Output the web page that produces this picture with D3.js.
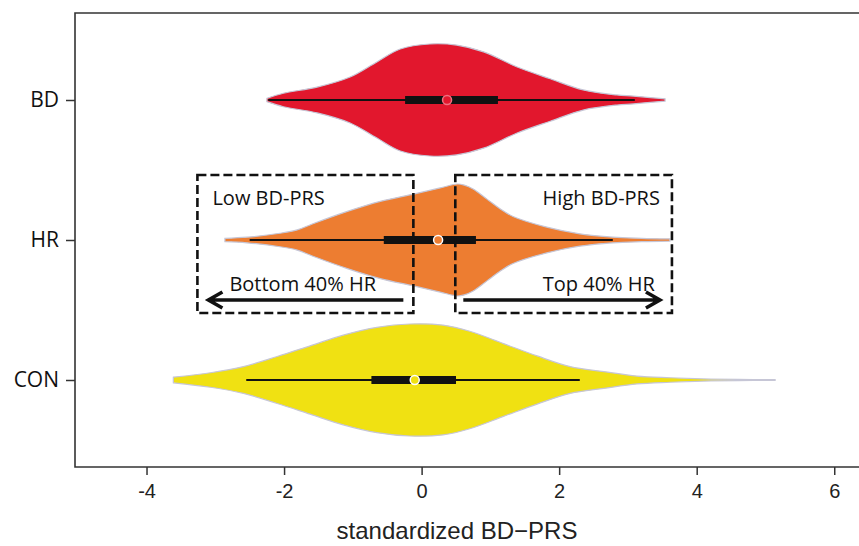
<!DOCTYPE html>
<html>
<head>
<meta charset="utf-8">
<script src="https://cdn.jsdelivr.net/npm/d3@7"></script>
<style>
  body { margin: 0; background: #fff; }
</style>
</head>
<body>
<div id="chart"></div>
<script>
const groups = ["BD", "HR", "CON"];
const colors = ["#e2172d", "#ed7d31", "#f0e112"];
const xTicks = [-4, -2, 0, 2, 4, 6];

// violin outlines: grid of x values and relative density (1 = widest)
const bdGrid = [-2.25, -2.01, -1.52, -1.04, -0.65, -0.31, 0.12, 0.51, 0.9, 1.39, 1.87, 2.35, 2.84, 3.08, 3.54];
const bdDensity = [0.03, 0.12, 0.23, 0.41, 0.68, 0.91, 1.0, 0.98, 0.86, 0.59, 0.38, 0.18, 0.09, 0.07, 0.02];

const hrGrid = [-2.86, -2.54, -2.06, -1.81, -1.58, -1.08, -0.6, -0.12, 0.27, 0.52, 0.62, 0.75, 0.95, 1.15, 1.33, 1.82, 2.3, 2.78, 3.2, 3.61];
const hrDensity = [0.03, 0.05, 0.12, 0.18, 0.29, 0.51, 0.69, 0.82, 0.93, 1.0, 0.98, 0.91, 0.73, 0.55, 0.42, 0.23, 0.11, 0.05, 0.03, 0.02];

const conGrid = [-3.61, -3.07, -2.59, -2.1, -1.62, -1.14, -0.65, -0.17, 0.31, 0.7, 1.19, 1.68, 2.16, 2.65, 3.13, 3.61, 4.1, 4.6, 5.14];
const conDensity = [0.05, 0.13, 0.24, 0.42, 0.61, 0.8, 0.94, 1.0, 0.98, 0.87, 0.65, 0.43, 0.24, 0.15, 0.07, 0.04, 0.02, 0.01, 0.005];

// box plot stats: whisker low, q1, median, q3, whisker high
const bdStats = [-2.23, -0.24, 0.37, 1.11, 3.1];
const hrStats = [-2.5, -0.55, 0.24, 0.79, 2.78];
const conStats = [-2.55, -0.73, -0.1, 0.5, 2.3];

// annotation over HR: dashed boxes (x extent) and their texts
const boxExtents = [[-3.26, -0.12], [0.49, 3.64]];
const boxTitles = ["Low BD-PRS", "High BD-PRS"];
const arrowTexts = ["Bottom 40% HR", "Top 40% HR"];

const width = 859, height = 546;
const margin = {left: 75, top: 13, bottom: 79};

const svg = d3.select("#chart").append("svg")
  .attr("width", width)
  .attr("height", height)
  .style("font-family", "'Liberation Sans', Arial, sans-serif");

const x = d3.scaleLinear().domain([-5.04, 6.36]).range([margin.left, width]);
const y = d3.scalePoint().domain(groups).range([100, 380]);
const w = d3.scaleLinear().domain([0, 1]).range([0, 56]);

const violins = [
  {name: "BD", grid: bdGrid, dens: bdDensity, stats: bdStats},
  {name: "HR", grid: hrGrid, dens: hrDensity, stats: hrStats},
  {name: "CON", grid: conGrid, dens: conDensity, stats: conStats},
];

// violins
violins.forEach((v, i) => {
  const cy = y(v.name);
  const pts = v.grid.map((g, j) => [g, v.dens[j]]);
  const area = d3.area()
    .x(d => x(d[0]))
    .y0(d => cy - w(d[1]))
    .y1(d => cy + w(d[1]))
    .curve(d3.curveCatmullRom);
  svg.append("path")
    .attr("d", area(pts))
    .attr("fill", colors[i])
    .attr("stroke", "#c6c6d6")
    .attr("stroke-width", 1.2);

  const [lo, q1, med, q3, hi] = v.stats;
  svg.append("line")
    .attr("x1", x(lo)).attr("x2", x(hi))
    .attr("y1", cy).attr("y2", cy)
    .attr("stroke", "#111").attr("stroke-width", 2);
  svg.append("rect")
    .attr("x", x(q1)).attr("y", cy - 4)
    .attr("width", x(q3) - x(q1)).attr("height", 8)
    .attr("fill", "#111");
  svg.append("circle")
    .attr("cx", x(med)).attr("cy", cy).attr("r", 4.5)
    .attr("fill", colors[i])
    .attr("stroke", i === 0 ? "#f07080" : "#fff")
    .attr("stroke-width", 1.5);
});

// frame (right side runs off the page)
svg.append("path")
  .attr("d", `M${width + 5},${margin.top}H${margin.left}V${height - margin.bottom}H${width + 5}`)
  .attr("fill", "none")
  .attr("stroke", "#333")
  .attr("stroke-width", 1.6);

// x axis
const xAxis = svg.append("g")
  .attr("transform", `translate(0,${height - margin.bottom})`)
  .call(d3.axisBottom(x).tickValues(xTicks).tickSize(8).tickPadding(9).tickFormat(d3.format("d")));
xAxis.select(".domain").remove();
xAxis.selectAll(".tick line").attr("stroke", "#333").attr("stroke-width", 1.5);
xAxis.selectAll(".tick text")
  .attr("fill", "#222")
  .style("font-size", "20px")
  .style("font-family", "'Liberation Sans', Arial, sans-serif")
  .text(d => d < 0 ? "-" + Math.abs(d) : d);

svg.append("text")
  .attr("x", 457).attr("y", 539)
  .attr("text-anchor", "middle")
  .attr("fill", "#222")
  .style("font-size", "24px")
  .text("standardized BD\u2212PRS");

// y axis
const yAxis = svg.append("g")
  .attr("transform", `translate(${margin.left},0)`)
  .call(d3.axisLeft(y).tickSize(9).tickPadding(7));
yAxis.select(".domain").remove();
yAxis.selectAll(".tick line").attr("stroke", "#333").attr("stroke-width", 1.5);
yAxis.selectAll(".tick text")
  .attr("fill", "#111")
  .style("font-size", "21px")
  .style("font-family", "'Open Sans', sans-serif");

// annotation boxes over HR
const hy = y("HR");
const boxTop = hy - 65, boxBottom = hy + 73, arrowY = hy + 60;

boxExtents.forEach((ext, i) => {
  const x0 = x(ext[0]), x1 = x(ext[1]);
  svg.append("rect")
    .attr("x", x0).attr("y", boxTop)
    .attr("width", x1 - x0).attr("height", boxBottom - boxTop)
    .attr("fill", "none")
    .attr("stroke", "#111")
    .attr("stroke-width", 2.6)
    .attr("stroke-dasharray", "9,4");

  const left = i === 0;
  svg.append("text")
    .attr("x", left ? x0 + 15 : x1 - 12)
    .attr("y", boxTop + 30)
    .attr("text-anchor", left ? "start" : "end")
    .attr("fill", "#111")
    .style("font-family", "'Open Sans', sans-serif")
    .style("font-size", "20px")
    .text(boxTitles[i]);
  svg.append("text")
    .attr("x", left ? x0 + 32 : x1 - 17)
    .attr("y", arrowY - 9)
    .attr("text-anchor", left ? "start" : "end")
    .attr("fill", "#111")
    .style("font-family", "'Open Sans', sans-serif")
    .style("font-size", "20px")
    .text(arrowTexts[i]);

  // arrow
  const from = left ? x1 - 10 : x0 + 8;
  const to = left ? x0 + 11 : x1 - 12;
  const dir = left ? 1 : -1;
  svg.append("path")
    .attr("d", `M${from},${arrowY}H${to}M${to + dir * 14},${arrowY - 8}L${to},${arrowY}L${to + dir * 14},${arrowY + 8}`)
    .attr("fill", "none")
    .attr("stroke", "#111")
    .attr("stroke-width", 3.6)
    .attr("stroke-linecap", "butt")
    .attr("stroke-linejoin", "miter");
});
</script>
</body>
</html>
